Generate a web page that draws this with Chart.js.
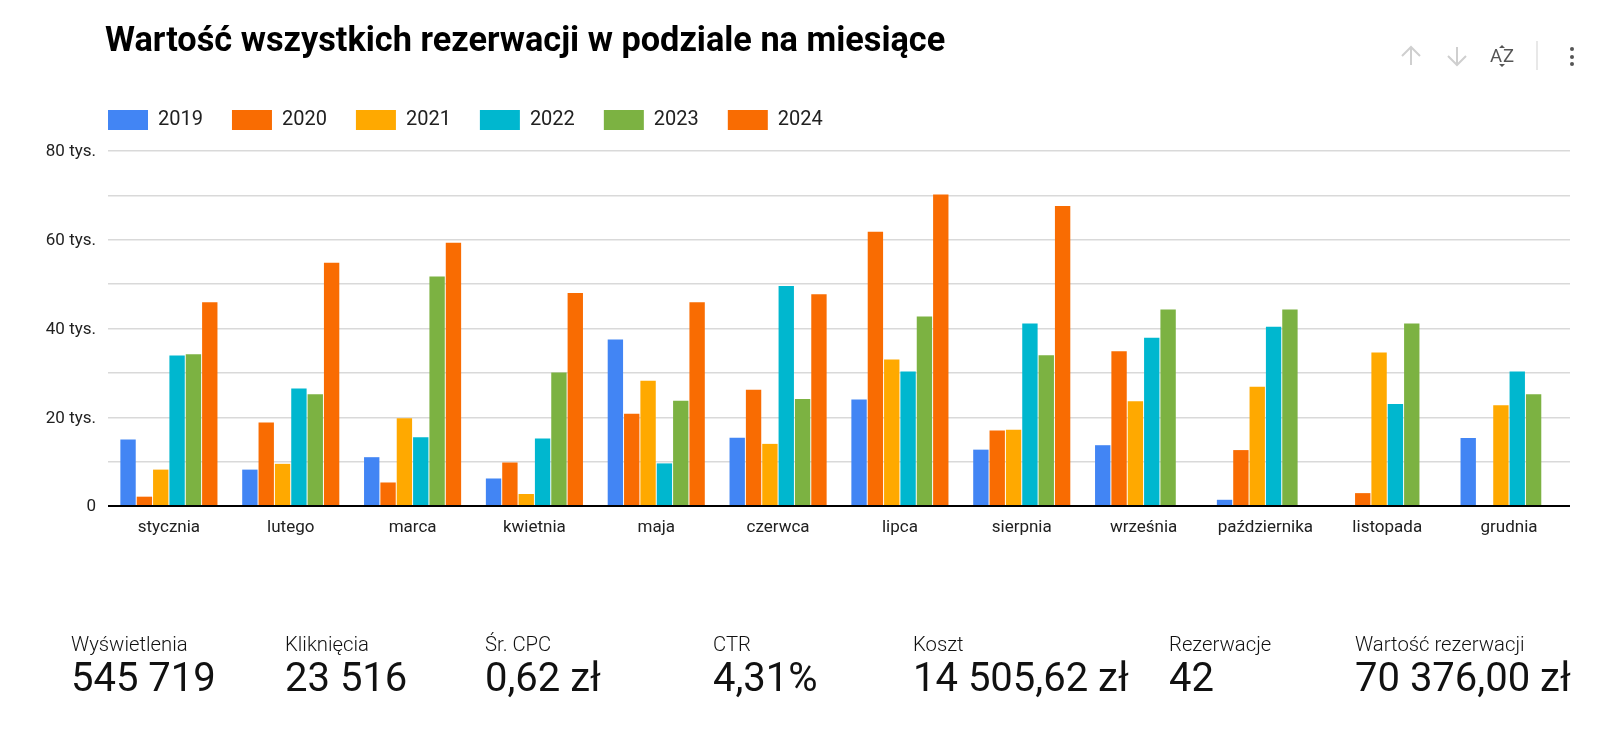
<!DOCTYPE html>
<html lang="pl">
<head>
<meta charset="utf-8">
<title>Wartość wszystkich rezerwacji</title>
<script src="https://cdn.jsdelivr.net/npm/chart.js@4"></script>
<style>
  html, body { margin: 0; padding: 0; background: #fff; overflow: hidden; }
  body { width: 1600px; height: 741px; position: relative; font-family: Roboto, sans-serif; color: #212121; }
  #chart { position: absolute; left: 0; top: 0; }
  h1 { position: absolute; left: 105px; top: 20px; margin: 0; font-size: 34.3px; line-height: 38px; font-weight: 700; color: #000; white-space: nowrap; }
  .kpi { position: absolute; top: 633px; white-space: nowrap; }
  .kpi .label { font-size: 20.3px; line-height: 22px; font-weight: 300; color: #111; }
  .kpi .value { font-size: 40px; line-height: 46px; font-weight: 400; color: #111; margin-top: 0; }
  .toolbar svg { position: absolute; left: 1390px; top: 35px; }
  .az { position: absolute; left: 1490px; top: 46px; font-size: 18.5px; line-height: 20px; color: #555; letter-spacing: 1px; }
</style>
</head>
<body>
<canvas id="chart" width="1600" height="741"></canvas>
<h1>Wartość wszystkich rezerwacji w podziale na miesiące</h1>
<div class="toolbar">
  <svg width="190" height="42" viewBox="0 0 190 42">
    <g fill="none" stroke="#cfcfcf" stroke-width="2">
      <path d="M21 30V12M12 21l9-9 9 9"/>
      <path d="M67 12v18M58 21l9 9 9-9"/>
    </g>
    <path d="M112 10l-3 3h6zM112 32l-3-3h6z" fill="#555"/>
    <line x1="147" y1="6" x2="147" y2="35" stroke="#e0e0e0" stroke-width="1.5"/>
    <g fill="#555">
      <circle cx="182" cy="14" r="2"/>
      <circle cx="182" cy="22" r="2"/>
      <circle cx="182" cy="29" r="2"/>
    </g>
  </svg>
  <div class="az">AZ</div>
</div>
<div id="kpis"></div>

<script>
  // Months on the x axis
  const months = ["stycznia", "lutego", "marca", "kwietnia", "maja", "czerwca", "lipca", "sierpnia", "września", "października", "listopada", "grudnia"];

  // Values in thousands
  const y2019 = [15.0, 8.2, 11.0, 6.2, 37.5, 15.4, 24.0, 12.7, 13.7, 1.4, null, 15.3];
  const y2020 = [2.1, 18.8, 5.3, 9.8, 20.8, 26.2, 61.8, 17.0, 34.9, 12.6, 2.9, null];
  const y2021 = [8.2, 9.5, 19.8, 2.7, 28.2, 14.0, 33.0, 17.2, 23.6, 26.9, 34.6, 22.7];
  const y2022 = [33.9, 26.5, 15.5, 15.2, 9.6, 49.6, 30.3, 41.1, 37.9, 40.4, 23.0, 30.3];
  const y2023 = [34.2, 25.2, 51.7, 30.1, 23.7, 24.1, 42.7, 34.0, 44.3, 44.3, 41.1, 25.2];
  const y2024 = [45.9, 54.8, 59.3, 48.0, 45.9, 47.7, 70.2, 67.6, null, null, null, null];

  const seriesNames = ["2019", "2020", "2021", "2022", "2023", "2024"];
  const seriesValues = [y2019, y2020, y2021, y2022, y2023, y2024];
  const seriesColors = ["#4285f4", "#f96c02", "#ffa900", "#00b7cf", "#7cb242", "#f96c02"];

  // Summary row under the chart
  const kpiLabels = ["Wyświetlenia", "Kliknięcia", "Śr. CPC", "CTR", "Koszt", "Rezerwacje", "Wartość rezerwacji"];
  const kpiValues = ["545 719", "23 516", "0,62 zł", "4,31%", "14 505,62 zł", "42", "70 376,00 zł"];
  const kpiLefts = [71, 285, 485, 713, 913, 1169, 1355];

  kpiLabels.forEach((label, i) => {
    const el = document.createElement("div");
    el.className = "kpi";
    el.style.left = kpiLefts[i] + "px";
    el.innerHTML = `<div class="label">${label}</div><div class="value">${kpiValues[i]}</div>`;
    document.getElementById("kpis").appendChild(el);
  });

  // The legend sits over the plot's left margin and must not push the plot down
  const legendPlacement = {
    id: "legendPlacement",
    beforeLayout(chart) {
      if (chart.legend && !chart.legend._fitPatched) {
        const fit = chart.legend.fit;
        chart.legend.fit = function () {
          fit.call(this);
          this.height = 70;
        };
        chart.legend._fitPatched = true;
      }
    },
    afterLayout(chart) {
      chart.legend.left = 79;
    },
  };

  new Chart(document.getElementById("chart"), {
    type: "bar",
    plugins: [legendPlacement],
    data: {
      labels: months,
      datasets: seriesNames.map((name, i) => ({
        label: name,
        data: seriesValues[i],
        backgroundColor: seriesColors[i],
        borderWidth: 0,
        categoryPercentage: 0.805,
        barPercentage: 0.94,
      })),
    },
    options: {
      responsive: false,
      animation: false,
      devicePixelRatio: 1,
      layout: { padding: { left: 0, top: 81, right: 30, bottom: 195 } },
      plugins: {
        title: { display: false },
        tooltip: { enabled: false },
        legend: {
          position: "top",
          align: "start",
          labels: {
            boxWidth: 40,
            boxHeight: 20,
            padding: 29,
            color: "#212121",
            font: { family: "Roboto", size: 20 },
          },
        },
      },
      scales: {
        x: {
          afterFit(scale) { scale.height = 40; },
          grid: { display: false, drawTicks: false },
          border: { display: false },
          ticks: {
            autoSkip: false,
            maxRotation: 0,
            padding: 12,
            color: "#212121",
            font: { family: "Roboto", size: 17 },
          },
        },
        y: {
          min: 0,
          max: 80,
          afterFit(scale) { scale.width = 108; },
          border: { display: false },
          grid: {
            drawTicks: false,
            color: (ctx) => (ctx.tick.value === 0 ? "#000" : "#d9d9d9"),
            lineWidth: (ctx) => (ctx.tick.value === 0 ? 2 : 1.4),
          },
          ticks: {
            stepSize: 10,
            autoSkip: false,
            padding: 12,
            labelOffset: 1,
            color: "#212121",
            font: { family: "Roboto", size: 17 },
            callback: (v) => (v === 0 ? "0" : v % 20 === 0 ? v + " tys." : ""),
          },
        },
      },
    },
  });
</script>
</body>
</html>
